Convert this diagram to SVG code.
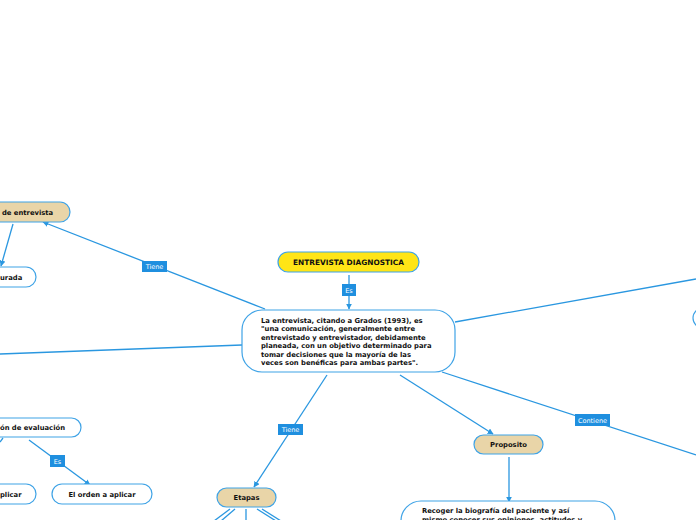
<svg xmlns="http://www.w3.org/2000/svg" width="696" height="520" viewBox="0 0 696 520">
<defs>
<marker id="arr" viewBox="0 0 10 10" refX="9" refY="5" markerWidth="6" markerHeight="6" orient="auto" markerUnits="userSpaceOnUse">
<path d="M0,0 L10,5 L0,10 z" fill="#2a97e0"/>
</marker>
<style>
.n{stroke:#3fa3e6;stroke-width:1.2}
.w{fill:#ffffff}
.t{fill:#e9d5a8}
.y{fill:#ffe516}
.c{fill:none;stroke:#2a97e0;stroke-width:1.3}
.tx{font-family:"DejaVu Sans",Verdana,sans-serif;font-size:6.8px;font-weight:bold;fill:#111}
.lb{fill:#1f8fdf}
.lt{font-family:"DejaVu Sans",Verdana,sans-serif;font-size:6.5px;fill:#ffffff;text-anchor:middle}
</style>
</defs>
<rect width="696" height="520" fill="#ffffff"/>
<g id="connectors">
<path class="c" d="M265,309 L43,222" marker-end="url(#arr)"/>
<path class="c" d="M13,224 L1,266" marker-end="url(#arr)"/>
<path class="c" d="M349,275 L349,309" marker-end="url(#arr)"/>
<path class="c" d="M242,345 L0,354"/>
<path class="c" d="M455,322 L696,279"/>
<path class="c" d="M442,372 L696,455"/>
<path class="c" d="M400,375 L493,434" marker-end="url(#arr)"/>
<path class="c" d="M327,375 L254,487" marker-end="url(#arr)"/>
<path class="c" d="M509,457 L509,502" marker-end="url(#arr)"/>
<path class="c" d="M29,440 L90,485" marker-end="url(#arr)"/>
<path class="c" d="M3,438 L0,442"/>
<path class="c" d="M230,509 L214,521"/>
<path class="c" d="M235,509 L221,521"/>
<path class="c" d="M246,509 L246,521"/>
<path class="c" d="M257,509 L276,521"/>
<path class="c" d="M262,509 L281,521"/>
<rect class="lb" x="142" y="261" width="25" height="11"/>
<text class="lt" x="154.5" y="268.5">Tiene</text>
<rect class="lb" x="342" y="284" width="14" height="12"/>
<text class="lt" x="349" y="292.5">Es</text>
<rect class="lb" x="278" y="424" width="25" height="11"/>
<text class="lt" x="290.5" y="431.5">Tiene</text>
<rect class="lb" x="575" y="414" width="35" height="12"/>
<text class="lt" x="592.5" y="422.5">Contiene</text>
<rect class="lb" x="50" y="455" width="15" height="12"/>
<text class="lt" x="57.5" y="463.5">Es</text>
</g>
<g id="node-tipos">
<rect class="n t" x="-40" y="202" width="110" height="20" rx="10"/>
<text class="tx" x="2" y="214.5">de entrevista</text>
</g>
<g id="node-urada">
<rect class="n w" x="-40" y="267" width="76" height="20" rx="10"/>
<text class="tx" x="0" y="279.5">urada</text>
</g>
<g id="node-titulo">
<rect class="n y" x="278" y="252" width="141" height="20" rx="10"/>
<text class="tx" x="348.5" y="264.5" text-anchor="middle" style="font-size:7.4px">ENTREVISTA DIAGNOSTICA</text>
</g>
<g id="node-definicion">
<rect class="n w" x="242" y="310" width="213" height="62" rx="20"/>
<text class="tx" x="261" y="322.5">La entrevista, citando a Grados (1993), es</text>
<text class="tx" x="261" y="331">"una comunicación, generalmente entre</text>
<text class="tx" x="261" y="339.5">entrevistado y entrevistador, debidamente</text>
<text class="tx" x="261" y="348">planeada, con un objetivo determinado para</text>
<text class="tx" x="261" y="356.5">tomar decisiones que la mayoría de las</text>
<text class="tx" x="261" y="365">veces son benéficas para ambas partes".</text>
</g>
<g id="node-derecha">
<rect class="n w" x="693" y="308" width="60" height="20" rx="10"/>
</g>
<g id="node-evaluacion">
<rect class="n w" x="-40" y="418" width="121" height="19" rx="9.5"/>
<text class="tx" x="0" y="429.5">ón de evaluación</text>
</g>
<g id="node-plicar">
<rect class="n w" x="-40" y="484" width="76" height="20" rx="10"/>
<text class="tx" x="0" y="496.5">plicar</text>
</g>
<g id="node-orden">
<rect class="n w" x="52" y="484" width="100" height="20" rx="10"/>
<text class="tx" x="102" y="496.5" text-anchor="middle">El orden a aplicar</text>
</g>
<g id="node-etapas">
<rect class="n t" x="217" y="488" width="59" height="19" rx="9.5"/>
<text class="tx" x="246.5" y="500" text-anchor="middle">Etapas</text>
</g>
<g id="node-proposito">
<rect class="n t" x="474" y="435" width="69" height="19" rx="9.5"/>
<text class="tx" x="508.5" y="447" text-anchor="middle">Proposito</text>
</g>
<g id="node-recoger">
<rect class="n w" x="401" y="501" width="214" height="50" rx="20"/>
<text class="tx" x="422" y="513">Recoger la biografía del paciente y así</text>
<text class="tx" x="422" y="521.5">mismo conocer sus opiniones, actitudes y</text>
</g>
</svg>
